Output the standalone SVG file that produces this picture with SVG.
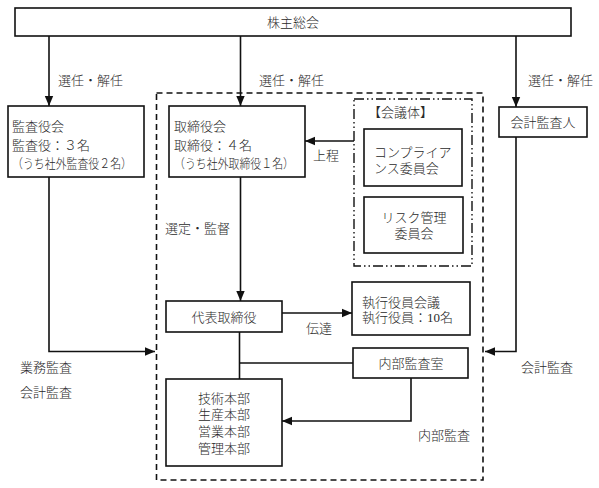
<svg xmlns="http://www.w3.org/2000/svg" width="599" height="488" viewBox="0 0 599 488">
<style>
text{font-family:"Liberation Serif","Noto Sans CJK JP",serif;font-size:13px;font-weight:300;fill:#2a2a2a}
.c{text-anchor:middle}
.box{fill:#fff;stroke:#111;stroke-width:1.6}
.ln{fill:none;stroke:#111;stroke-width:1.6}
.ar{fill:none;stroke:#111;stroke-width:1.6;marker-end:url(#ah)}
</style>
<defs>
<marker id="ah" markerUnits="userSpaceOnUse" markerWidth="10" markerHeight="10" viewBox="0 0 10 10" refX="10" refY="5" orient="auto">
<path d="M0,0.8 L10,5 L0,9.2 Z" fill="#111"/>
</marker>
</defs>
<rect width="599" height="488" fill="#fff"/>
<g id="outer-frame"><rect x="156.5" y="93" width="326.5" height="387" fill="none" stroke="#111" stroke-width="1.6" stroke-dasharray="6 4"/></g>
<g id="kaigitai"><rect x="354" y="99" width="118" height="167" fill="none" stroke="#111" stroke-width="1.4" stroke-dasharray="10 3 1.5 3 1.5 3"/>
<text x="368" y="117">【会議体】</text></g>
<g id="connectors">
<path class="ar" d="M49,36 V106"/>
<path class="ar" d="M240.5,36 V106"/>
<path class="ar" d="M516,36 V107"/>
<path class="ar" d="M354,141 H305"/>
<path class="ar" d="M240.5,177 V301"/>
<path class="ar" d="M282,313 H352"/>
<path class="ln" d="M239.5,332 V379"/>
<path class="ln" d="M239.5,363 H353"/>
<path class="ar" d="M411,378 V421 H282"/>
<path class="ar" d="M49,177 V351.5 H155"/>
<path class="ar" d="M516,137 V351.5 H485"/>
<text x="58" y="85">選任・解任</text>
<text x="259" y="85">選任・解任</text>
<text x="528" y="85">選任・解任</text>
<text x="313" y="160">上程</text>
<text x="165" y="233">選定・監督</text>
<text x="306" y="333">伝達</text>
<text x="418" y="440">内部監査</text>
<text x="20" y="372">業務監査</text>
<text x="20" y="397">会計監査</text>
<text x="521" y="372">会計監査</text>
</g>
<g id="kabunushi"><rect class="box" x="15" y="8" width="556" height="28"/><text class="c" x="293" y="27">株主総会</text></g>
<g id="kansayakukai"><rect class="box" x="8" y="106" width="136" height="71"/>
<text x="12" y="131">監査役会</text><text x="12" y="150">監査役：３名</text><text x="12" y="168" textLength="120" lengthAdjust="spacingAndGlyphs">（うち社外監査役２名）</text></g>
<g id="torishimariyakukai"><rect class="box" x="169" y="106" width="136" height="71"/>
<text x="174" y="131">取締役会</text><text x="174" y="150">取締役：４名</text><text x="174" y="168" textLength="120" lengthAdjust="spacingAndGlyphs">（うち社外取締役１名）</text></g>
<g id="kaikeikansanin"><rect class="box" x="499" y="107" width="88" height="30"/><text class="c" x="543" y="127">会計監査人</text></g>
<g id="compliance"><rect class="box" x="364" y="129" width="98" height="57"/>
<text x="374" y="157">コンプライア</text><text x="374" y="173">ンス委員会</text></g>
<g id="risk"><rect class="box" x="364" y="197" width="99" height="56"/>
<text class="c" x="414" y="222">リスク管理</text><text class="c" x="414" y="238">委員会</text></g>
<g id="daihyo"><rect class="box" x="166" y="301" width="116" height="31"/><text class="c" x="224" y="322">代表取締役</text></g>
<g id="shikko"><rect class="box" x="352" y="282" width="118" height="53"/>
<text x="362" y="307">執行役員会議</text><text x="362" y="322">執行役員：10名</text></g>
<g id="naibukansashitsu"><rect class="box" x="353" y="348" width="115" height="30"/><text class="c" x="411" y="368">内部監査室</text></g>
<g id="honbu"><rect class="box" x="166" y="379" width="116" height="87"/>
<text class="c" x="224" y="403">技術本部</text><text class="c" x="224" y="419">生産本部</text><text class="c" x="224" y="436">営業本部</text><text class="c" x="224" y="453">管理本部</text></g>
</svg>
